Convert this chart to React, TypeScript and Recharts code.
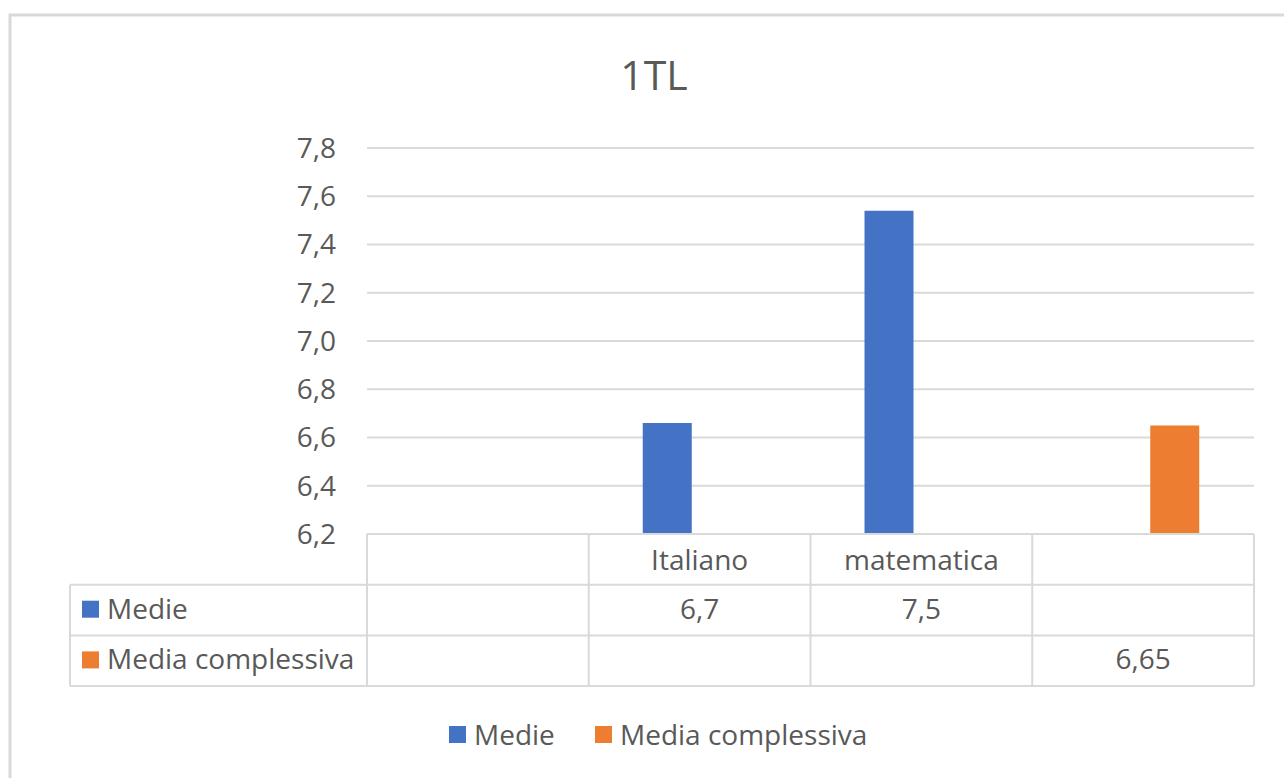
import React from "react";
import { Bar, BarChart, CartesianGrid, XAxis, YAxis } from "recharts";

const categories = ["", "Italiano", "matematica", ""];
const medie = [null, 6.66, 7.54, null];
const mediaComplessiva = [null, null, null, 6.65];
const yTicks = [6.2, 6.4, 6.6, 6.8, 7.0, 7.2, 7.4, 7.6, 7.8];

const series = [
  { key: "medie", name: "Medie", color: "#4472C4", decimals: 1, values: medie },
  {
    key: "complessiva",
    name: "Media complessiva",
    color: "#ED7D31",
    decimals: 2,
    values: mediaComplessiva,
  },
];

const data = categories.map((cat, i) => ({
  id: `c${i}`,
  cat,
  medie: medie[i],
  complessiva: mediaComplessiva[i],
}));

const W = 1284;
const H = 778;
const PLOT_LEFT = 367;
const PLOT_RIGHT = 1254;
const PLOT_TOP = 148;
const PLOT_BOTTOM = 534;
const TABLE_LEFT = 70;
const ROW_H = 50.7;
const FONT = "'Open Sans', sans-serif";
const FS = 28;
const TEXT = "#595959";
const LINE = "#d9d9d9";

const fmt = (v: number, d: number) => v.toFixed(d).replace(".", ",");

function DataTable() {
  const colW = (PLOT_RIGHT - PLOT_LEFT) / categories.length;
  const rows = [PLOT_BOTTOM, PLOT_BOTTOM + ROW_H, PLOT_BOTTOM + 2 * ROW_H, PLOT_BOTTOM + 3 * ROW_H];
  const bottom = rows[3];
  return (
    <g fontFamily={FONT} fill={TEXT} fontSize={FS}>
      {/* horizontal lines */}
      {rows.slice(1).map((y, i) => (
        <line key={`h${i}`} x1={TABLE_LEFT} x2={PLOT_RIGHT} y1={y} y2={y} stroke={LINE} strokeWidth={2} />
      ))}
      <line x1={PLOT_LEFT} x2={PLOT_RIGHT} y1={PLOT_BOTTOM} y2={PLOT_BOTTOM} stroke={LINE} strokeWidth={2} />
      <line x1={TABLE_LEFT} x2={TABLE_LEFT} y1={rows[1]} y2={bottom} stroke={LINE} strokeWidth={2} />
      {categories.map((_, i) => (
        <line
          key={`v${i}`}
          x1={PLOT_LEFT + i * colW}
          x2={PLOT_LEFT + i * colW}
          y1={PLOT_BOTTOM}
          y2={bottom}
          stroke={LINE}
          strokeWidth={2}
        />
      ))}
      <line x1={PLOT_RIGHT} x2={PLOT_RIGHT} y1={PLOT_BOTTOM} y2={bottom} stroke={LINE} strokeWidth={2} />
      {/* header */}
      {categories.map((c, i) => (
        <text key={`t${i}`} x={PLOT_LEFT + (i + 0.5) * colW} y={rows[0] + 36} textAnchor="middle">
          {c}
        </text>
      ))}
      {/* series rows */}
      {series.map((s, r) => (
        <g key={s.key}>
          <rect x={82} y={rows[r + 1] + 16} width={17} height={17} fill={s.color} />
          <text x={107} y={rows[r + 1] + 34}>
            {s.name}
          </text>
          {s.values.map((v, i) =>
            v == null ? null : (
              <text key={i} x={PLOT_LEFT + (i + 0.5) * colW} y={rows[r + 1] + 34} textAnchor="middle">
                {fmt(v, s.decimals)}
              </text>
            )
          )}
        </g>
      ))}
    </g>
  );
}

function Legend() {
  const items = [
    { x: 449, ...series[0] },
    { x: 595, ...series[1] },
  ];
  return (
    <g fontFamily={FONT} fill={TEXT} fontSize={FS}>
      {items.map((it) => (
        <g key={it.key}>
          <rect x={it.x} y={726} width={17} height={17} fill={it.color} />
          <text x={it.x + 25} y={745}>
            {it.name}
          </text>
        </g>
      ))}
    </g>
  );
}

export default function App() {
  return (
    <div style={{ position: "absolute", left: 0, top: 0, width: W, height: H, background: "#fff", fontFamily: FONT }}>
      <BarChart
        width={W}
        height={H}
        data={data}
        margin={{ top: PLOT_TOP, right: W - PLOT_RIGHT, bottom: H - PLOT_BOTTOM, left: 0 }}
        barCategoryGap={54}
        barGap={15}
      >
        <CartesianGrid vertical={false} stroke={LINE} strokeWidth={2} />
        <XAxis dataKey="id" hide />
        <YAxis
          width={PLOT_LEFT}
          domain={[6.2, 7.8]}
          ticks={yTicks}
          interval={0}
          axisLine={false}
          tickLine={false}
          tickSize={0}
          tickMargin={31}
          tick={{ fontSize: FS, fill: TEXT, fontFamily: FONT }}
          tickFormatter={(v: number) => fmt(v, 1)}
        />
        {series.map((s) => (
          <Bar key={s.key} dataKey={s.key} name={s.name} fill={s.color} isAnimationActive={false} />
        ))}
      </BarChart>
      <svg
        width={W}
        height={H}
        style={{ position: "absolute", left: 0, top: 0, pointerEvents: "none" }}
      >
        <path d={`M10 ${H} L10 15 L${W} 15`} fill="none" stroke={LINE} strokeWidth={3} />
        <text x={654} y={90} textAnchor="middle" fontFamily={FONT} fontSize={41} fill={TEXT}>
          1TL
        </text>
        <DataTable />
        <Legend />
      </svg>
    </div>
  );
}
